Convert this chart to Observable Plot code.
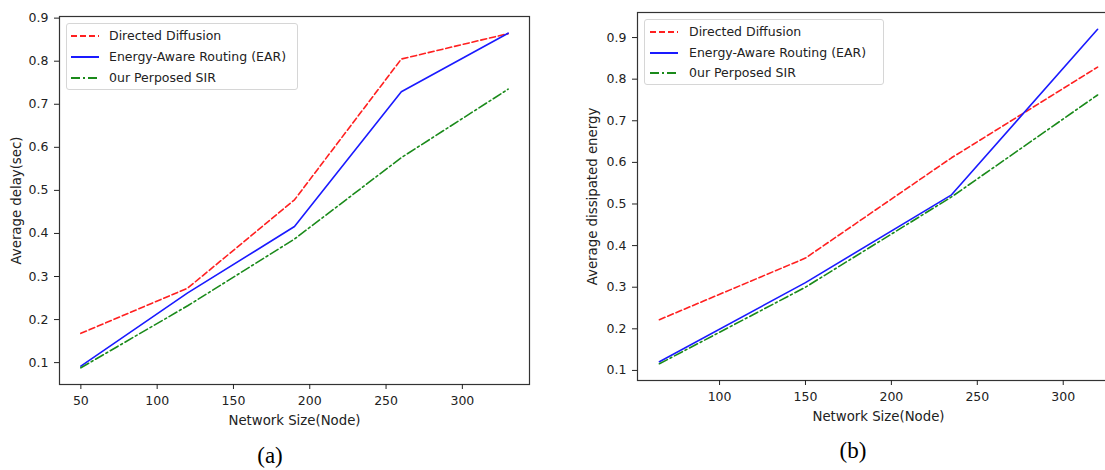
<!DOCTYPE html>
<html>
<head>
<meta charset="utf-8">
<script src="https://cdn.jsdelivr.net/npm/d3@7"></script>
<script src="https://cdn.jsdelivr.net/npm/@observablehq/plot@0.6"></script>
<style>
  html, body { margin: 0; padding: 0; background: #fff; }
  body { width: 1105px; height: 470px; overflow: hidden; position: relative; font-family: "DejaVu Sans", sans-serif; }
  .panel { position: absolute; top: 0; }
  .panel svg { max-width: none !important; }
  .legend { position: absolute; background: rgba(255,255,255,0.85); border: 1px solid #d6d6d6; border-radius: 3px; box-sizing: border-box; }
  .legend .row { position: absolute; left: 0; height: 16px; }
  .legend .row svg { position: absolute; top: 0; }
  .legend .row span { position: absolute; top: 0; line-height: 16px; font-size: 12.5px; color: #222; white-space: nowrap; }
  .cap { position: absolute; font-family: "Liberation Serif", serif; font-size: 23px; color: #000; transform: translate(-50%, -50%); }
</style>
</head>
<body>
<script>
// ---- Data: panel (a) Average delay ----
const sizesA = [50, 120, 190, 260, 330];
const delayDD  = [0.168, 0.273, 0.478, 0.805, 0.864];
const delayEAR = [0.092, 0.262, 0.416, 0.729, 0.865];
const delaySIR = [0.088, 0.232, 0.387, 0.576, 0.735];
const ticksXA = [50, 100, 150, 200, 250, 300];

// ---- Data: panel (b) Average dissipated energy ----
const sizesB = [65, 150, 235, 320];
const energyDD  = [0.222, 0.370, 0.611, 0.829];
const energyEAR = [0.121, 0.311, 0.522, 0.920];
const energySIR = [0.116, 0.300, 0.517, 0.762];
const ticksXB = [100, 150, 200, 250, 300];

const ticksY = [0.1, 0.2, 0.3, 0.4, 0.5, 0.6, 0.7, 0.8, 0.9];
const seriesNames = ["Directed Diffusion", "Energy-Aware Routing (EAR)", "0ur Perposed SIR"];
const seriesColors = ["#ff2020", "#1a1aff", "#1a8a1a"];
const seriesDash = ["6,3", null, "9,3,2,3"];

function rows(xs, ys) { return xs.map((x, i) => ({x, y: ys[i]})); }

function panel({left, width, height, mL, mR, mT, mB, xDomain, yDomain, xTicks, xs, series, xLabel, yLabel, xLabelDy, yLabelDx}) {
  const marks = [
    Plot.frame({stroke: "#333", strokeWidth: 1.2}),
    Plot.axisX({ticks: xTicks, tickSize: 5, tickPadding: 7, fontSize: 12.5, color: "#222", label: null}),
    Plot.axisY({ticks: ticksY, tickSize: 5, tickPadding: 6, fontSize: 12.5, color: "#222", tickFormat: d3.format(".1f"), label: null}),
    Plot.text([xLabel], {frameAnchor: "bottom", dy: xLabelDy, text: d => d, fontSize: 13.3, fill: "#222", lineAnchor: "middle", textAnchor: "middle"}),
    Plot.text([yLabel], {frameAnchor: "left", dx: -yLabelDx, text: d => d, fontSize: 13.3, fill: "#222", rotate: -90, lineAnchor: "middle", textAnchor: "middle"})
  ];
  series.forEach((ys, i) => {
    marks.push(Plot.line(rows(xs, ys), {x: "x", y: "y", stroke: seriesColors[i], strokeWidth: 1.6, strokeDasharray: seriesDash[i]}));
  });
  const svg = Plot.plot({
    width, height,
    marginLeft: mL, marginRight: mR, marginTop: mT, marginBottom: mB,
    x: {domain: xDomain},
    y: {domain: yDomain},
    style: {fontFamily: "DejaVu Sans", fontSize: "12.5px", color: "#222", background: "transparent", overflow: "visible"},
    marks
  });
  const wrap = document.createElement("div");
  wrap.className = "panel";
  wrap.style.left = left + "px";
  wrap.style.width = width + "px";
  wrap.style.height = height + "px";
  wrap.appendChild(svg);
  document.body.appendChild(wrap);
}

function legend(left, top, w, h, rowTops, lineX0, lineX1, textX) {
  const box = document.createElement("div");
  box.className = "legend";
  box.style.left = left + "px"; box.style.top = top + "px";
  box.style.width = w + "px"; box.style.height = h + "px";
  seriesNames.forEach((name, i) => {
    const row = document.createElement("div");
    row.className = "row";
    row.style.top = rowTops[i] + "px";
    row.style.width = w + "px";
    const ns = "http://www.w3.org/2000/svg";
    const s = document.createElementNS(ns, "svg");
    s.setAttribute("width", lineX1 - lineX0 + 2);
    s.setAttribute("height", 16);
    s.style.left = (lineX0 - 1) + "px";
    const ln = document.createElementNS(ns, "line");
    ln.setAttribute("x1", 1); ln.setAttribute("x2", lineX1 - lineX0 + 1);
    ln.setAttribute("y1", 8); ln.setAttribute("y2", 8);
    ln.setAttribute("stroke", seriesColors[i]);
    ln.setAttribute("stroke-width", 2);
    if (seriesDash[i]) ln.setAttribute("stroke-dasharray", seriesDash[i]);
    s.appendChild(ln);
    row.appendChild(s);
    const t = document.createElement("span");
    t.textContent = name;
    t.style.left = textX + "px";
    row.appendChild(t);
    box.appendChild(row);
  });
  document.body.appendChild(box);
}

function caption(text, x, y) {
  const d = document.createElement("div");
  d.className = "cap"; d.textContent = text;
  d.style.left = x + "px"; d.style.top = y + "px";
  document.body.appendChild(d);
}

panel({left: 0, width: 550, height: 440, mL: 59, mR: 21, mT: 16, mB: 56,
  xDomain: [36, 344], yDomain: [0.0492, 0.9038], xTicks: ticksXA, xs: sizesA,
  series: [delayDD, delayEAR, delaySIR],
  xLabel: "Network Size(Node)", yLabel: "Average delay(sec)", xLabelDy: 36, yLabelDx: 43});

panel({left: 555, width: 580, height: 440, mL: 82, mR: 16, mT: 12, mB: 60,
  xDomain: [52.25, 332.75], yDomain: [0.0758, 0.9602], xTicks: ticksXB, xs: sizesB,
  series: [energyDD, energyEAR, energySIR],
  xLabel: "Network Size(Node)", yLabel: "Average dissipated energy", xLabelDy: 36, yLabelDx: 45});

legend(66, 23, 232, 67, [4, 25, 46], 70 - 66, 98 - 66, 108 - 66);
legend(644, 19, 240, 66, [4, 25, 45], 649 - 644, 677 - 644, 688 - 644);

caption("(a)", 270, 456);
caption("(b)", 853, 451);
</script>
</body>
</html>
